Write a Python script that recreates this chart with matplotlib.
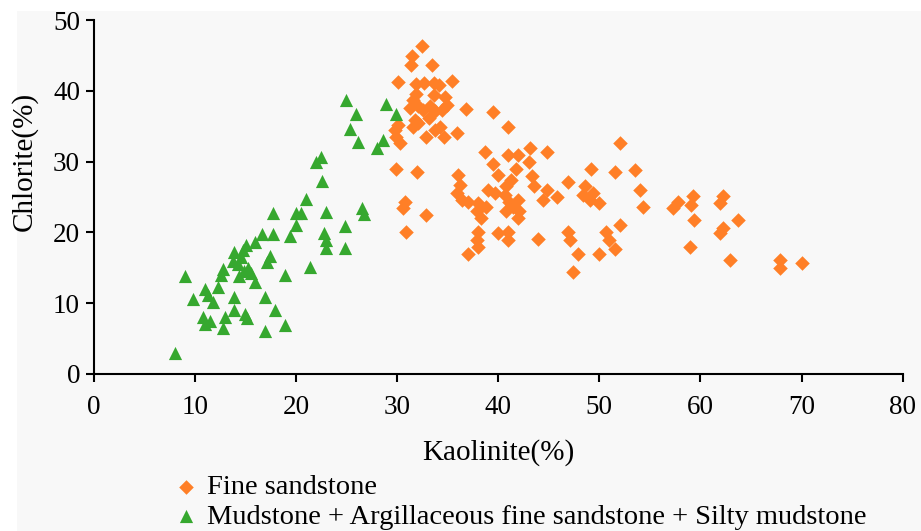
import matplotlib
matplotlib.use('Agg')
import matplotlib.pyplot as plt
from matplotlib.patches import Rectangle

# Fine sandstone (Kaolinite %, Chlorite %).
sand_kaol = [
    32.5, 31.5, 31.4, 33.4, 30.1, 35.4, 31.9, 32.7, 33.6, 34.1, 31.9, 31.6,
    33.6, 34.7, 34.9, 34.4, 31.3, 32.1, 32.6, 33.2, 33.7, 36.8, 31.8, 32.1,
    31.6, 30.1, 29.8, 29.9, 30.3, 33.1, 33.7, 34.2, 34.6, 32.9, 35.9, 39.5,
    41.0, 29.9, 32.0, 30.8, 30.6, 32.9, 30.9, 52.0, 38.7, 41.0, 42.0, 43.1,
    44.8, 39.5, 43.0, 41.8, 49.2, 51.5, 53.5, 36.0, 36.2, 40.0, 41.3, 40.8,
    43.3, 43.5, 46.9, 48.6, 54.0, 35.9, 36.4, 37.0, 39.0, 39.7, 40.7, 44.8,
    44.4, 45.8, 48.4, 49.4, 49.1, 50.0, 38.0, 37.9, 38.8, 38.3, 41.1, 41.5,
    42.0, 42.1, 40.8, 42.0, 54.3, 57.3, 57.8, 59.3, 59.1, 62.2, 61.9, 59.4,
    63.7, 62.2, 61.9, 59.0, 62.9, 67.9, 67.9, 70.0, 52.0, 50.7, 51.0, 51.5,
    50.0, 47.9, 46.9, 47.1, 47.4, 43.9, 41.0, 41.0, 40.0, 38.0, 37.9, 38.0,
    37.0,
]
sand_chl = [
    46.3, 45.0, 43.7, 43.6, 41.2, 41.4, 41.0, 41.1, 41.1, 40.8, 39.6, 38.7,
    39.4, 39.2, 38.0, 37.3, 37.6, 37.8, 37.3, 37.8, 37.1, 37.4, 35.9, 35.4,
    34.9, 35.2, 34.5, 33.5, 32.6, 36.1, 34.5, 34.9, 33.5, 33.5, 34.0, 37.0,
    34.9, 29.0, 28.6, 24.3, 23.4, 22.5, 20.0, 32.6, 31.4, 30.9, 30.9, 31.9,
    31.4, 29.7, 30.0, 29.0, 29.0, 28.6, 28.8, 28.1, 26.7, 28.1, 27.4, 26.5,
    27.9, 26.5, 27.1, 26.5, 26.0, 25.5, 24.6, 24.3, 26.0, 25.5, 25.3, 26.0,
    24.6, 25.0, 25.3, 25.5, 24.6, 24.1, 24.1, 23.0, 23.6, 22.0, 24.3, 23.6,
    24.6, 23.0, 23.0, 22.0, 23.6, 23.4, 24.3, 25.1, 23.9, 25.1, 24.1, 21.8,
    21.8, 20.6, 19.9, 18.0, 16.1, 16.1, 14.9, 15.6, 21.0, 20.1, 18.9, 17.7,
    17.0, 17.0, 20.1, 18.9, 14.4, 19.1, 20.1, 18.9, 19.9, 20.1, 18.9, 18.0,
    17.0,
]

# Mudstone + Argillaceous fine sandstone + Silty mudstone.
mud_kaol = [
    8.0, 9.0, 9.8, 11.0, 11.3, 11.8, 10.8, 11.0, 11.5, 12.3, 12.6, 12.8,
    13.0, 12.8, 13.9, 13.9, 13.8, 13.9, 14.3, 14.5, 14.7, 15.0, 14.8, 14.4,
    15.2, 15.5, 14.9, 15.1, 15.9, 15.9, 16.6, 16.9, 16.9, 17.1, 17.4, 17.7,
    17.7, 17.9, 18.9, 18.9, 19.4, 20.0, 20.0, 20.5, 21.0, 21.4, 22.0, 22.5,
    22.6, 22.8, 23.0, 23.0, 23.0, 24.8, 24.8, 24.9, 25.3, 25.9, 26.1, 26.5,
    26.7, 28.0, 28.6, 28.9, 29.9,
]
mud_chl = [
    3.0, 13.8, 10.6, 12.0, 11.2, 10.2, 8.1, 7.0, 7.5, 12.3, 14.0, 14.8,
    8.0, 6.5, 10.9, 9.0, 16.0, 17.2, 15.5, 16.5, 17.5, 18.2, 14.5, 13.8,
    15.0, 14.2, 8.5, 7.9, 13.0, 18.6, 19.7, 10.9, 6.0, 15.8, 16.6, 19.7,
    22.7, 9.0, 14.0, 6.9, 19.5, 21.1, 22.8, 22.7, 24.7, 15.1, 30.0, 30.7,
    27.2, 19.9, 18.9, 17.8, 22.9, 20.9, 17.8, 38.7, 34.6, 36.8, 32.8, 23.5,
    22.6, 31.9, 33.0, 38.1, 36.8,
]

x_ticks = [0, 10, 20, 30, 40, 50, 60, 70, 80]
y_ticks = [0, 10, 20, 30, 40, 50]

ORANGE = '#ff7f27'
GREEN = '#36a82f'
PANEL = '#f8f8f8'

plt.rcParams['font.family'] = ['Liberation Serif', 'DejaVu Serif']

fig = plt.figure(figsize=(9.21, 5.31), dpi=100, facecolor='white')
# Light grey panel behind the chart, with a thin white strip left and top.
fig.patches.append(Rectangle((17 / 921, 0), 1, 1 - 11 / 531,
                             transform=fig.transFigure, facecolor=PANEL,
                             edgecolor='none', zorder=-10))

ax = fig.add_axes([0.102, 0.296, 0.878, 0.666])
ax.set_facecolor(PANEL)

ax.scatter(sand_kaol, sand_chl, marker='D', s=55, color=ORANGE,
           linewidths=0, label='Fine sandstone', zorder=3)
ax.scatter(mud_kaol, mud_chl, marker='^', s=90, color=GREEN, linewidths=0,
           label='Mudstone + Argillaceous fine sandstone + Silty mudstone',
           zorder=3)

ax.set_xlim(0, 80)
ax.set_ylim(0, 50)
ax.set_xticks(x_ticks)
ax.set_yticks(y_ticks)
ax.spines['top'].set_visible(False)
ax.spines['right'].set_visible(False)
for side in ('left', 'bottom'):
    ax.spines[side].set_linewidth(1.5)
ax.tick_params(direction='out', length=6, width=1.5, labelsize=19.5)
ax.tick_params(axis='x', pad=9)
ax.tick_params(axis='y', pad=4)

ax.set_xlabel('Kaolinite(%)', fontsize=21, labelpad=14)
ax.set_ylabel('Chlorite(%)', fontsize=21)
ax.yaxis.set_label_coords(-0.069, 0.6)

fig.legend(loc='upper left', bbox_to_anchor=(0.171, 0.134), frameon=False,
           fontsize=20.5, markerscale=1.0, handletextpad=0.25,
           handlelength=1.0, labelspacing=0.14, borderpad=0)

fig.savefig('out.png', dpi=100, facecolor=fig.get_facecolor())
